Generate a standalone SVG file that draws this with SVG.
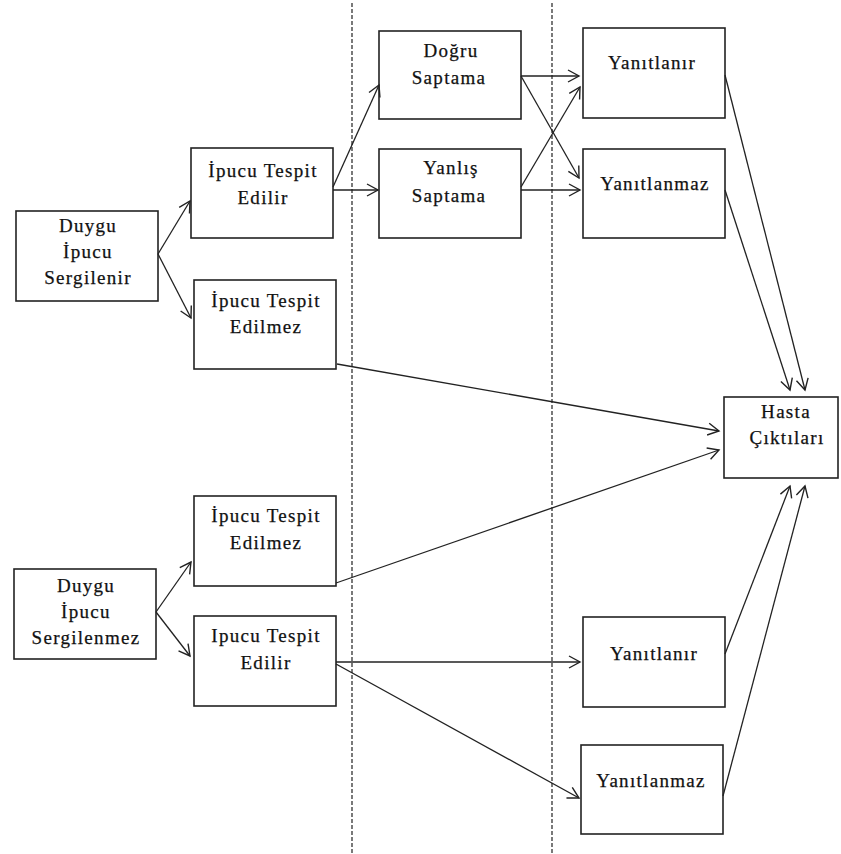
<svg xmlns="http://www.w3.org/2000/svg" width="841" height="854" viewBox="0 0 841 854">
<defs>
<marker id="arr" markerUnits="userSpaceOnUse" markerWidth="14" markerHeight="14" refX="12" refY="7" orient="auto">
<path d="M1,1 L12,7 L1,13" fill="none" stroke="#222" stroke-width="1.4"/>
</marker>
<style>
.box{fill:#fff;stroke:#222;stroke-width:1.6}
.t{font-family:"Liberation Serif","Times New Roman",serif;font-size:19px;letter-spacing:1.3px;fill:#111;text-anchor:middle;stroke:#111;stroke-width:0.25}
.c{fill:none;stroke:#222;stroke-width:1.3;marker-end:url(#arr)}
.d{stroke:#333;stroke-width:1.3;stroke-dasharray:4,2}
</style>
</defs>
<rect width="841" height="854" fill="#fff"/>
<g id="dividers">
<line class="d" x1="352" y1="3" x2="352" y2="853"/>
<line class="d" x1="552" y1="3" x2="552" y2="853"/>
</g>
<g id="n1"><rect class="box" x="16" y="211" width="142" height="90"/>
<text class="t" x="88" y="232">Duygu</text><text class="t" x="88" y="258">İpucu</text><text class="t" x="88" y="284">Sergilenir</text></g>
<g id="n2"><rect class="box" x="191" y="148" width="142" height="90"/>
<text class="t" x="263" y="177">İpucu Tespit</text><text class="t" x="263" y="204">Edilir</text></g>
<g id="n3"><rect class="box" x="194" y="280" width="142" height="89"/>
<text class="t" x="266" y="307">İpucu Tespit</text><text class="t" x="266" y="333">Edilmez</text></g>
<g id="n4"><rect class="box" x="379" y="31" width="142" height="88"/>
<text class="t" x="451" y="57">Doğru</text><text class="t" x="449" y="84">Saptama</text></g>
<g id="n5"><rect class="box" x="379" y="149" width="142" height="89"/>
<text class="t" x="451" y="174">Yanlış</text><text class="t" x="449" y="202">Saptama</text></g>
<g id="n6"><rect class="box" x="583" y="28" width="142" height="90"/>
<text class="t" x="652" y="69">Yanıtlanır</text></g>
<g id="n7"><rect class="box" x="583" y="149" width="142" height="89"/>
<text class="t" x="655" y="190">Yanıtlanmaz</text></g>
<g id="n8"><rect class="box" x="724" y="397" width="114" height="81"/>
<text class="t" x="786" y="418">Hasta</text><text class="t" x="787" y="444">Çıktıları</text></g>
<g id="n9"><rect class="box" x="14" y="569" width="142" height="90"/>
<text class="t" x="86" y="592">Duygu</text><text class="t" x="86" y="618">İpucu</text><text class="t" x="86" y="644">Sergilenmez</text></g>
<g id="n10"><rect class="box" x="194" y="496" width="142" height="90"/>
<text class="t" x="266" y="522">İpucu Tespit</text><text class="t" x="266" y="549">Edilmez</text></g>
<g id="n11"><rect class="box" x="194" y="616" width="142" height="90"/>
<text class="t" x="266" y="642">Ipucu Tespit</text><text class="t" x="266" y="669">Edilir</text></g>
<g id="n12"><rect class="box" x="583" y="617" width="142" height="90"/>
<text class="t" x="654" y="660">Yanıtlanır</text></g>
<g id="n13"><rect class="box" x="581" y="745" width="142" height="89"/>
<text class="t" x="651" y="787">Yanıtlanmaz</text></g>
<g id="connectors">
<path class="c" d="M158,254 L190,201"/>
<path class="c" d="M158,254 L191,318"/>
<path class="c" d="M333,187 L379,85"/>
<path class="c" d="M333,190 L378,190"/>
<path class="c" d="M521,76 L579,76"/>
<path class="c" d="M521,76 L579,178"/>
<path class="c" d="M521,187 L580,87"/>
<path class="c" d="M521,190 L580,190"/>
<path class="c" d="M725,75 L805,390"/>
<path class="c" d="M725,190 L790,390"/>
<path class="c" d="M337,364 L719,431"/>
<path class="c" d="M336,583 L719,450"/>
<path class="c" d="M156,612 L191,562"/>
<path class="c" d="M156,612 L190,656"/>
<path class="c" d="M336,662 L580,662"/>
<path class="c" d="M336,664 L579,798"/>
<path class="c" d="M725,654 L790,486"/>
<path class="c" d="M723,796 L805,486"/>
</g>
</svg>
